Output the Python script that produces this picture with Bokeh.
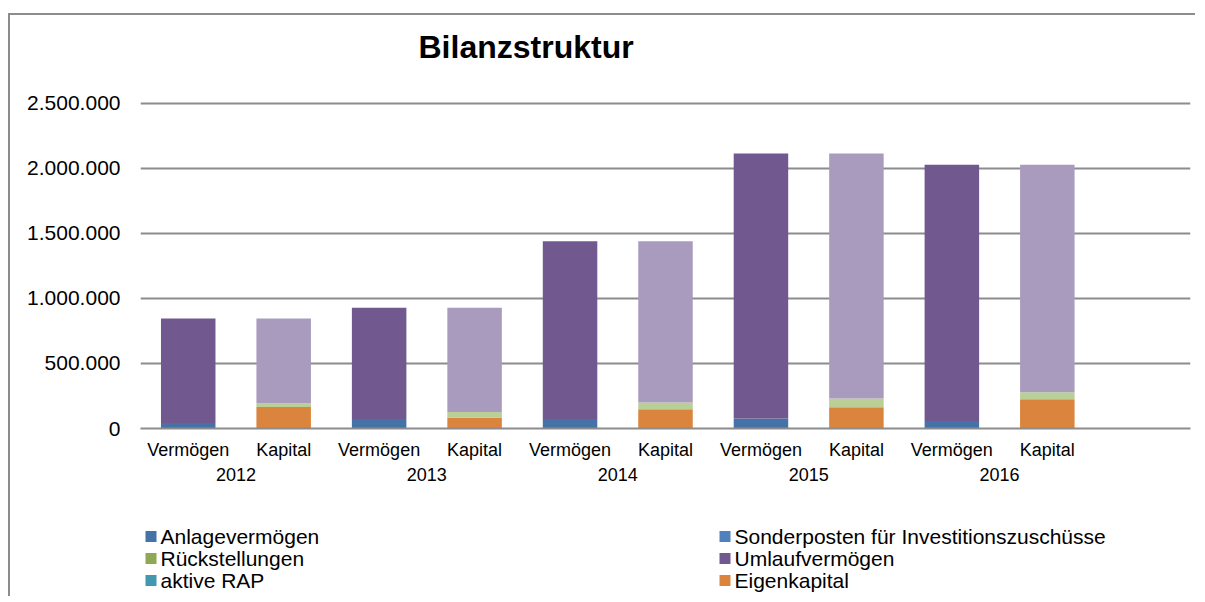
from bokeh.plotting import figure
from bokeh.layouts import column
from bokeh.models import (Range1d, FixedTicker, LinearAxis, Title,
                          Label, BoxAnnotation, ColumnDataSource)
from bokeh.embed import file_html
from bokeh.resources import INLINE

# ---------------- data ----------------
years = ["2012", "2013", "2014", "2015", "2016"]
sides = ["Vermögen", "Kapital"]

# Aktiva (Vermögen bars)
anlagevermoegen = [43000, 74000, 74000, 77000, 58000]
umlaufvermoegen = [803000, 854000, 1367000, 2038000, 1970000]
aktive_rap = [0, 0, 0, 0, 0]

# Passiva (Kapital bars)
sonderposten = [0, 0, 0, 0, 0]
rueckstellungen = [0, 0, 0, 0, 0]
eigenkapital = [166000, 82000, 148000, 164000, 225000]
uebrige_passiva = [28000, 44000, 52000, 67000, 54000]
verbindlichkeiten = [652000, 802000, 1241000, 1884000, 1749000]

y_ticks = [0, 500000, 1000000, 1500000, 2000000, 2500000]
y_tick_labels = ["0", "500.000", "1.000.000", "1.500.000", "2.000.000", "2.500.000"]

# series in stacking order: (name, values, side, colour)
series = [
    ("Anlagevermögen", anlagevermoegen, "Vermögen", "#4572A7"),
    ("Sonderposten für Investitionszuschüsse", sonderposten, "Kapital", "#4F81BD"),
    ("Rückstellungen", rueckstellungen, "Kapital", "#8EA853"),
    ("Umlaufvermögen", umlaufvermoegen, "Vermögen", "#71588F"),
    ("aktive RAP", aktive_rap, "Vermögen", "#4198AF"),
    ("Eigenkapital", eigenkapital, "Kapital", "#DB843D"),
    ("übrige Passiva", uebrige_passiva, "Kapital", "#B9CF96"),
    ("Verbindlichkeiten", verbindlichkeiten, "Kapital", "#A99BBE"),
]
legend_left = ["Anlagevermögen", "Rückstellungen", "aktive RAP"]
legend_right = ["Sonderposten für Investitionszuschüsse", "Umlaufvermögen", "Eigenkapital"]

# ---------------- build ----------------
font = "Liberation Sans"
n_slots = len(years) * len(sides) + 1          # one empty slot at the right end
slot_x = [j * len(sides) + k + 0.5 for j in range(len(years)) for k in range(len(sides))]
slot_side = [s for _ in years for s in sides]

data = {"x": slot_x}
keys = []
for i, (name, vals, side, col) in enumerate(series):
    key = f"s{i}"
    keys.append(key)
    data[key] = [vals[j] if s == side else 0
                 for j in range(len(years)) for s in sides]
source = ColumnDataSource(data)

W = 1187
BL, BR = 130, 7
p = figure(width=W, height=475, x_range=Range1d(0, n_slots), y_range=Range1d(0, 2515000),
           output_backend="svg", toolbar_location=None,
           min_border_left=BL, min_border_right=BR, min_border_top=86,
           min_border_bottom=62)
p.outline_line_color = None

renderers = p.vbar_stack(keys, x="x", width=0.571, source=source,
                         color=[s[3] for s in series], line_color=None)

# title (a blank spacer title sits between the frame and the real title)
p.add_layout(Title(text=" ", text_font_size="10px", standoff=19), "above")
p.add_layout(Title(text="Bilanzstruktur", align="left", offset=278, standoff=10,
                   text_font=font, text_font_size="32px", text_font_style="bold",
                   text_color="#000000"), "above")

# y axis
p.yaxis.ticker = FixedTicker(ticks=y_ticks)
p.yaxis.major_label_overrides = {t: l for t, l in zip(y_ticks, y_tick_labels)}
p.yaxis.axis_line_color = None
p.yaxis.major_tick_line_color = None
p.yaxis.major_tick_out = 0
p.yaxis.minor_tick_line_color = None
p.yaxis.major_label_standoff = 20
p.yaxis.major_label_text_font = font
p.yaxis.major_label_text_font_size = "21px"
p.yaxis.major_label_text_color = "#000000"

# x axis: Vermögen / Kapital
p.xaxis.ticker = FixedTicker(ticks=slot_x)
p.xaxis.major_label_overrides = {x: s for x, s in zip(slot_x, slot_side)}
p.xaxis.axis_line_color = "#8c8c8c"
p.xaxis.axis_line_width = 2
p.xaxis.major_tick_line_color = None
p.xaxis.minor_tick_line_color = None
p.xaxis.major_tick_out = 0
p.xaxis.major_label_standoff = 11
p.xaxis.major_label_text_font = font
p.xaxis.major_label_text_font_size = "18px"
p.xaxis.major_label_text_color = "#000000"

# second x axis: years (centred under each pair of bars)
year_x = [j * len(sides) + len(sides) / 2 for j in range(len(years))]
year_axis = LinearAxis(ticker=FixedTicker(ticks=year_x),
                       major_label_overrides={x: yr for x, yr in zip(year_x, years)})
year_axis.axis_line_color = None
year_axis.major_tick_line_color = None
year_axis.minor_tick_line_color = None
year_axis.major_tick_out = 0
year_axis.major_label_standoff = 5
year_axis.major_label_text_font = font
year_axis.major_label_text_font_size = "18px"
year_axis.major_label_text_color = "#000000"
p.add_layout(year_axis, "below")

p.xgrid.grid_line_color = None
p.ygrid.grid_line_color = "#8c8c8c"
p.ygrid.grid_line_width = 2

# ---------------- legend panel ----------------
H2 = 108
p2 = figure(width=W, height=H2, x_range=Range1d(BL, W - BR), y_range=Range1d(0, H2),
            output_backend="svg", toolbar_location=None,
            x_axis_location=None, y_axis_location=None,
            min_border=0, min_border_left=BL, min_border_right=BR,
            min_border_top=0, min_border_bottom=0)
p2.outline_line_color = None
p2.grid.visible = False

colours = {s[0]: s[3] for s in series}
row_y = [62, 40, 18]
for names, sx in ((legend_left, 135), (legend_right, 709)):
    for name, yc in zip(names, row_y):
        p2.add_layout(BoxAnnotation(left=sx, right=sx + 11, bottom=yc - 5.5, top=yc + 5.5,
                                    fill_color=colours[name], fill_alpha=1,
                                    line_color=None))
        p2.add_layout(Label(x=sx + 15, y=yc, text=name, text_font=font,
                            text_font_size="21px", text_baseline="middle",
                            text_align="left", text_color="#000000"))

layout = column(p, p2, styles={"margin-left": "10px", "margin-top": "15px",
                               "overflow": "hidden", "background": "white",
                               "box-shadow": "-2px -2px 0 0 #8c8c8c"})

open("out.html", "w").write(file_html(layout, INLINE))
